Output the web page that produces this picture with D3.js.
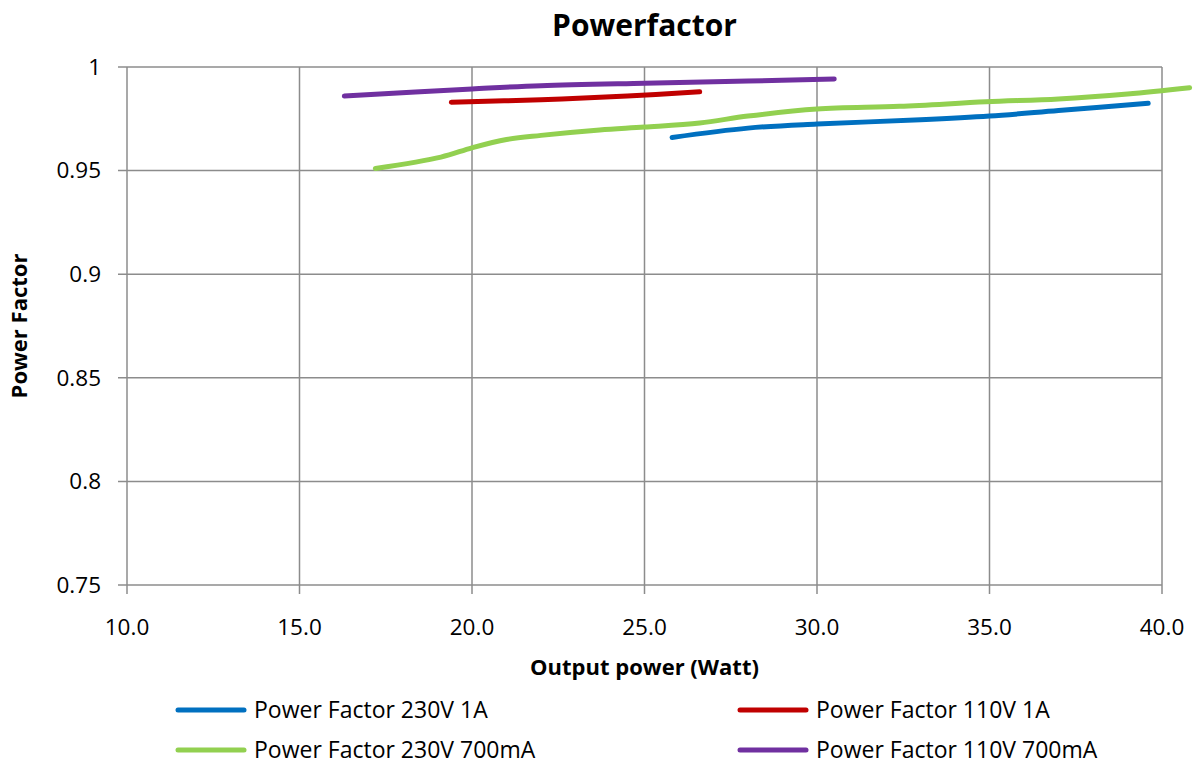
<!DOCTYPE html>
<html>
<head>
<meta charset="utf-8">
<script src="https://cdn.jsdelivr.net/npm/d3@7"></script>
<style>
  body { margin: 0; background: #fff; }
  svg { display: block; font-family: 'Open Sans', Lato, sans-serif; }
</style>
</head>
<body>
<div id="chart"></div>
<script>
// series data: [output power (W), power factor]
const pf230v1a = [[25.8, 0.966], [28, 0.9705], [30, 0.9725], [33, 0.9745], [35, 0.9763], [37, 0.979], [39.6, 0.9825]]
const pf110v1a = [[19.4, 0.983], [22, 0.9842], [24.5, 0.986], [26.6, 0.988]]
const pf230v700 = [[17.2, 0.951], [19.1, 0.9565], [20, 0.961], [21, 0.965], [22, 0.967], [23.7, 0.9696], [25, 0.971],
  [26.6, 0.973], [28, 0.9763], [30, 0.9797], [32.4, 0.981], [34.9, 0.9832], [37, 0.9846], [39, 0.987], [40.8, 0.990]]
const pf110v700 = [[16.3, 0.986], [20, 0.9894], [22, 0.991], [25, 0.9922], [28, 0.9932], [30.5, 0.9942]]

const xTicks = [10, 15, 20, 25, 30, 35, 40]
const yTicks = [0.75, 0.8, 0.85, 0.9, 0.95, 1]

const series = [
  { name: 'Power Factor 230V 1A', data: pf230v1a, color: '#0070c0' },
  { name: 'Power Factor 110V 1A', data: pf110v1a, color: '#c00000' },
  { name: 'Power Factor 230V 700mA', data: pf230v700, color: '#92d050' },
  { name: 'Power Factor 110V 700mA', data: pf110v700, color: '#7030a0' },
]

const W = 1193, H = 767
const margin = { top: 67, right: 31, bottom: 182, left: 127 }
const width = W - margin.left - margin.right
const height = H - margin.top - margin.bottom
const gridColor = '#8c8c8c'
const tickSize = '22.5px'

const svg = d3.select('#chart').append('svg').attr('width', W).attr('height', H)
const chart = svg.append('g').attr('transform', `translate(${margin.left},${margin.top})`)

const x = d3.scaleLinear().domain([10, 40]).range([0, width])
const y = d3.scaleLinear().domain([0.75, 1]).range([height, 0])

// gridlines (extended a little past the axes as tick marks)
chart.selectAll('.grid-h')
  .data(yTicks)
  .enter()
  .append('line')
  .attr('x1', -9).attr('x2', width)
  .attr('y1', d => y(d)).attr('y2', d => y(d))
  .attr('stroke', gridColor).attr('stroke-width', 1.5)

chart.selectAll('.grid-v')
  .data(xTicks)
  .enter()
  .append('line')
  .attr('x1', d => x(d)).attr('x2', d => x(d))
  .attr('y1', 0).attr('y2', height + 9)
  .attr('stroke', gridColor).attr('stroke-width', 1.5)

// tick labels
chart.selectAll('.y-tick')
  .data(yTicks)
  .enter()
  .append('text')
  .attr('x', -26)
  .attr('y', d => y(d))
  .attr('dy', '0.35em')
  .attr('text-anchor', 'end')
  .style('font-size', tickSize)
  .text(d => d3.format('')(d))

chart.selectAll('.x-tick')
  .data(xTicks)
  .enter()
  .append('text')
  .attr('x', d => x(d))
  .attr('y', height + 50)
  .attr('text-anchor', 'middle')
  .style('font-size', tickSize)
  .text(d => d3.format('.1f')(d))

// smoothed series lines
const line = d3.line()
  .x(d => x(d[0]))
  .y(d => y(d[1]))
  .curve(d3.curveCatmullRom.alpha(0.5))

chart.selectAll('.line-path')
  .data(series)
  .enter()
  .append('path')
  .attr('d', d => line(d.data))
  .attr('fill', 'none')
  .attr('stroke', d => d.color)
  .attr('stroke-width', 5)
  .attr('stroke-linecap', 'round')
  .attr('stroke-linejoin', 'round')

// titles
svg.append('text')
  .attr('x', margin.left + width / 2)
  .attr('y', 36)
  .attr('text-anchor', 'middle')
  .style('font-size', '30px')
  .style('font-weight', 'bold')
  .text('Powerfactor')

svg.append('text')
  .attr('x', margin.left + width / 2)
  .attr('y', 675)
  .attr('text-anchor', 'middle')
  .style('font-size', '22px')
  .style('font-weight', 'bold')
  .text('Output power (Watt)')

svg.append('text')
  .attr('transform', `translate(27,${margin.top + height / 2}) rotate(-90)`)
  .attr('text-anchor', 'middle')
  .style('font-size', '22px')
  .style('font-weight', 'bold')
  .text('Power Factor')

// legend, two columns
const legend = svg.append('g')
series.forEach((s, i) => {
  const lx = i % 2 === 0 ? 176 : 738
  const ly = i < 2 ? 710 : 750
  const item = legend.append('g').attr('transform', `translate(${lx},${ly})`)
  item.append('line')
    .attr('x1', 2).attr('x2', 68)
    .attr('stroke', s.color).attr('stroke-width', 5).attr('stroke-linecap', 'round')
  item.append('text')
    .attr('x', 78)
    .attr('dy', '0.35em')
    .style('font-size', '23px')
    .text(s.name)
})
</script>
</body>
</html>
